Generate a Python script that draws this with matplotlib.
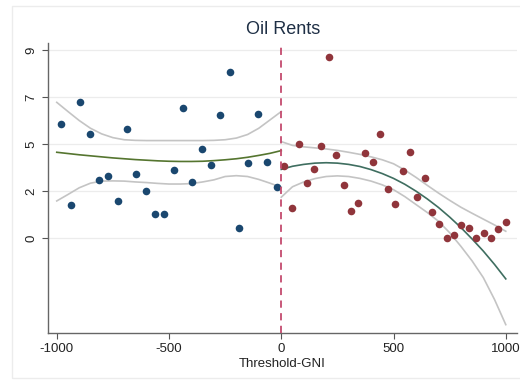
import numpy as np
import matplotlib.pyplot as plt
from matplotlib.patches import Rectangle

plt.rcParams['font.family'] = ['Liberation Sans', 'DejaVu Sans']

# binned means below the threshold
left_x = [-979, -937, -896, -854, -812, -771, -729, -687, -646, -604, -562, -521,
          -479, -437, -396, -354, -312, -271, -229, -187, -146, -104, -62, -21]
left_y = [5.44, 1.56, 6.51, 4.96, 2.76, 2.98, 1.76, 5.20, 3.06, 2.25, 1.15, 1.15,
          3.24, 6.21, 2.67, 4.24, 3.48, 5.87, 7.94, 0.48, 3.57, 5.93, 3.62, 2.45]

# binned means above the threshold
right_x = [14, 47, 80, 115, 146, 177, 211, 244, 278, 309, 342, 375, 409, 442, 475, 507,
           540, 573, 605, 638, 671, 703, 736, 769, 802, 836, 868, 901, 934, 967, 1001]
right_y = [3.46, 1.44, 4.49, 2.62, 3.30, 4.39, 8.65, 3.97, 2.55, 1.29, 1.68, 4.07, 3.62,
           4.96, 2.36, 1.63, 3.22, 4.13, 1.94, 2.86, 1.26, 0.68, 0.00, 0.13, 0.61, 0.49,
           0.00, 0.22, 0.00, 0.42, 0.77]

# fitted values and confidence bands
fit_lx = [-1000, -950, -900, -850, -800, -750, -700, -650, -600, -550, -500, -450, -400,
          -350, -300, -250, -200, -150, -100, -50, 0]
fit_l = [4.10, 4.04, 3.98, 3.93, 3.88, 3.83, 3.79, 3.75, 3.72, 3.69, 3.67, 3.66, 3.66,
         3.67, 3.70, 3.74, 3.79, 3.86, 3.95, 4.05, 4.18]
hi_l = [6.49, 6.05, 5.62, 5.25, 4.98, 4.80, 4.70, 4.67, 4.66, 4.66, 4.66, 4.66, 4.66,
        4.66, 4.67, 4.70, 4.78, 4.95, 5.25, 5.65, 6.05]
lo_l = [1.77, 2.08, 2.40, 2.62, 2.72, 2.73, 2.72, 2.68, 2.65, 2.61, 2.58, 2.58, 2.60,
        2.68, 2.78, 2.94, 2.98, 2.94, 2.80, 2.62, 2.42]

fit_rx = [0, 50, 100, 150, 200, 250, 300, 350, 400, 450, 500, 550, 600, 650, 700, 750,
          800, 850, 900, 950, 1000]
fit_r = [3.28, 3.43, 3.52, 3.58, 3.60, 3.58, 3.52, 3.42, 3.27, 3.08, 2.85, 2.57, 2.24,
         1.87, 1.46, 1.00, 0.50, -0.05, -0.63, -1.27, -1.96]
hi_r = [4.61, 4.43, 4.36, 4.31, 4.26, 4.19, 4.10, 4.00, 3.88, 3.74, 3.55, 3.25, 2.90,
        2.52, 2.15, 1.80, 1.47, 1.18, 0.90, 0.62, 0.32]
lo_r = [1.95, 2.45, 2.68, 2.84, 2.94, 2.97, 2.94, 2.85, 2.72, 2.54, 2.31, 1.98, 1.60,
        1.22, 0.80, 0.25, -0.40, -1.10, -1.90, -2.95, -4.15]

yticks = [0, 2.25, 4.5, 6.75, 9]
ylabels = ['0', '2', '5', '7', '9']
xticks = [-1000, -500, 0, 500, 1000]

fig = plt.figure(figsize=(5.2, 3.82), dpi=100)
fig.patches.append(Rectangle((12 / 520, 4 / 382), 1.0, 1 - 10 / 382, transform=fig.transFigure,
                             fill=False, edgecolor='#ececec', linewidth=1))
ax = fig.add_axes([48 / 520, 49 / 382, 469 / 520, 290 / 382])

ax.plot(fit_lx, hi_l, color='#c4c4c4', lw=1.2)
ax.plot(fit_lx, lo_l, color='#c4c4c4', lw=1.2)
ax.plot(fit_lx, fit_l, color='#55752f', lw=1.2)
ax.plot(fit_rx, hi_r, color='#c4c4c4', lw=1.2)
ax.plot(fit_rx, lo_r, color='#c4c4c4', lw=1.2)
ax.plot(fit_rx, fit_r, color='#3f6e60', lw=1.2)

ax.scatter(left_x, left_y, s=30, color='#1a476f', zorder=3, linewidths=0)
ax.scatter(right_x, right_y, s=30, color='#90353b', zorder=3, linewidths=0)
ax.axvline(0, color='#c44b6e', lw=1.3, ls=(0, (4, 3)), zorder=4)

ax.set_xlim(-1039, 1050)
ax.set_ylim(-4.55, 9.33)
ax.set_yticks(yticks)
ax.set_yticklabels(ylabels, rotation=90, va='center', fontsize=9.5)
ax.set_xticks(xticks)
ax.set_xticklabels([str(v) for v in xticks], fontsize=9.5)
ax.tick_params(colors='#555555', labelcolor='#222222', length=4, width=0.8)
ax.grid(axis='y', color='#ececec', lw=0.9)
ax.set_axisbelow(True)
for s in ['top', 'right']:
    ax.spines[s].set_visible(False)
for s in ['left', 'bottom']:
    ax.spines[s].set_color('#666666')
    ax.spines[s].set_linewidth(1)

ax.set_xlabel('Threshold-GNI', fontsize=9.5, color='#222222', labelpad=2)
fig.text(283 / 520, 1 - 30 / 382, 'Oil Rents', fontsize=13, color='#1e2f45',
         ha='center', va='center')

fig.savefig('out.png', dpi=100, facecolor='white')
